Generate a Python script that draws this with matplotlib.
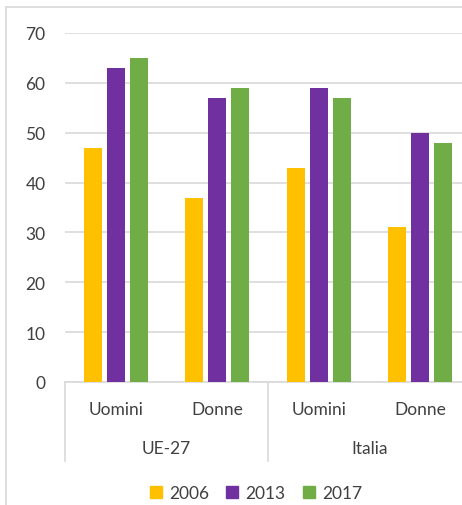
import matplotlib
matplotlib.use("Agg")
import matplotlib.pyplot as plt
from matplotlib.lines import Line2D
from matplotlib.patches import Patch
import matplotlib.transforms as mtransforms
import numpy as np

groups = ["UE-27", "Italia"]
categories = ["Uomini", "Donne", "Uomini", "Donne"]
years = ["2006", "2013", "2017"]
values_2006 = [47, 37, 43, 31]
values_2013 = [63, 57, 59, 50]
values_2017 = [65, 59, 57, 48]
colors = ["#FFC000", "#7030A0", "#70AD47"]

plt.rcParams['font.family'] = ['Lato', 'DejaVu Sans']
text_color = "#404040"

fig = plt.figure(figsize=(4.62, 5.06), dpi=100)
ax = fig.add_axes([65 / 462, 1 - 383 / 506, 406 / 462, 349 / 506])

x = np.arange(len(categories))
width = 0.177
step = 0.2266
for i, (vals, c) in enumerate(zip([values_2006, values_2013, values_2017], colors)):
    ax.bar(x + (i - 1) * step, vals, width, color=c, zorder=3)

ax.set_xlim(-0.5, 3.5)
ax.set_ylim(0, 70)
ax.set_yticks(range(0, 71, 10))
ax.tick_params(axis='y', length=0, pad=14, labelsize=12.5, labelcolor=text_color)
ax.set_xticks([])
ax.grid(axis='y', color="#D9D9D9", linewidth=1.2, zorder=0)
for s in ["top", "right", "left"]:
    ax.spines[s].set_visible(False)
ax.spines["bottom"].set_color("#D9D9D9")
ax.spines["bottom"].set_linewidth(1.2)

# two-level category axis
trans = mtransforms.blended_transform_factory(ax.transData, ax.transAxes)
px = 1 / 349
for xi, lab in zip(x, categories):
    ax.text(xi, -27 * px, lab, transform=trans, ha='center', va='center',
            fontsize=12.5, color=text_color)
for gi, g in enumerate(groups):
    ax.text(gi * 2 + 0.5, -66 * px, g, transform=trans, ha='center', va='center',
            fontsize=12.5, color=text_color)
for xs in [-0.5, 1.5, 3.5]:
    ax.add_line(Line2D([xs, xs], [0, -79 * px], transform=trans, color="#D9D9D9",
                       linewidth=1.2, clip_on=False))

handles = [Patch(color=c, label=y) for c, y in zip(colors, years)]
fig.legend(handles=handles, loc='center', bbox_to_anchor=(256 / 462, 1 - 494 / 506),
           ncol=3, frameon=False, fontsize=12.5, handlelength=0.7, handleheight=0.7,
           handletextpad=0.4, columnspacing=1.0, labelcolor=text_color)

# chart frame
fig.add_artist(Line2D([6 / 462, 6 / 462], [0, 1 - 8 / 506], transform=fig.transFigure,
                      color="#D9D9D9", linewidth=1.2))
fig.add_artist(Line2D([6 / 462, 1], [1 - 8 / 506, 1 - 8 / 506], transform=fig.transFigure,
                      color="#D9D9D9", linewidth=1.2))

fig.savefig("out.png", dpi=100)
